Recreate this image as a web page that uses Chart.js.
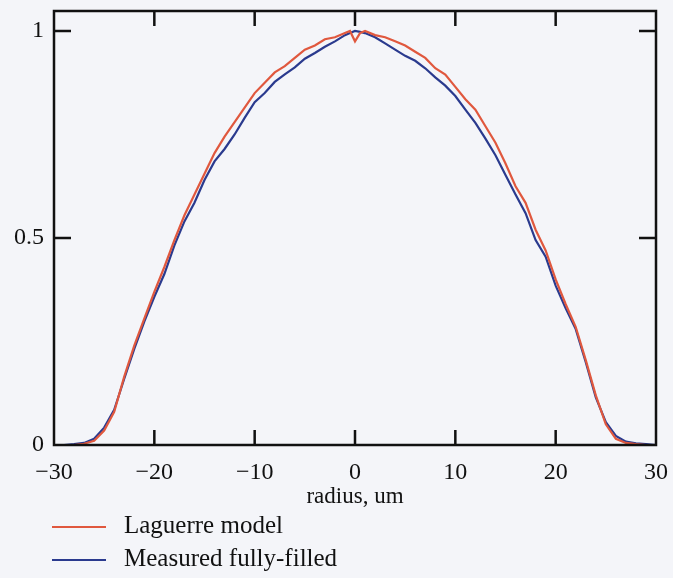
<!DOCTYPE html>
<html>
<head>
<meta charset="utf-8">
<script src="https://cdn.jsdelivr.net/npm/chart.js@4"></script>
<style>
  body { margin: 0; background: #f4f5f9; }
  #wrap { position: relative; width: 673px; height: 578px; }
  .leg { position: absolute; left: 52px; font-family: "Liberation Serif", serif; font-size: 25px; color: #111; }
  .leg span { display: inline-block; width: 54px; height: 2px; vertical-align: middle; margin-right: 18px; }
</style>
</head>
<body>
<div id="wrap">
  <canvas id="chart" width="673" height="578"></canvas>
  <div class="leg" style="top: 511px;"><span style="background:#e0583e"></span>Laguerre model</div>
  <div class="leg" style="top: 544px;"><span style="background:#2a3a8e"></span>Measured fully-filled</div>
</div>
<script>
// radius positions (um)
const radius = [-30, -29, -28, -27, -26, -25, -24, -23, -22, -21, -20, -19, -18, -17, -16, -15,
  -14, -13, -12, -11, -10, -9, -8, -7, -6, -5, -4, -3, -2, -1, -0.5, 0, 0.5, 1, 2, 3, 4, 5, 6, 7,
  8, 9, 10, 11, 12, 13, 14, 15, 16, 17, 18, 19, 20, 21, 22, 23, 24, 25, 26, 27, 28, 29, 30];

const laguerre = [0, 0, 0, 0.003, 0.01, 0.035, 0.08, 0.165, 0.24, 0.305, 0.37, 0.43, 0.495, 0.555,
  0.605, 0.655, 0.705, 0.745, 0.78, 0.815, 0.85, 0.875, 0.9, 0.915, 0.935, 0.955, 0.965, 0.98, 0.985,
  0.995, 1.0, 0.975, 0.995, 1.0, 0.99, 0.985, 0.975, 0.965, 0.95, 0.935, 0.91, 0.895, 0.865, 0.835,
  0.81, 0.77, 0.73, 0.68, 0.625, 0.585, 0.52, 0.47, 0.4, 0.34, 0.285, 0.205, 0.12, 0.05, 0.015,
  0.005, 0.002, 0, 0];

const measured = [0, 0, 0.002, 0.005, 0.015, 0.042, 0.085, 0.16, 0.232, 0.298, 0.358, 0.413, 0.482,
  0.54, 0.585, 0.64, 0.685, 0.715, 0.75, 0.79, 0.828, 0.85, 0.877, 0.895, 0.912, 0.933, 0.947, 0.962,
  0.975, 0.99, 0.995, 1.0, 0.998, 0.995, 0.985, 0.97, 0.955, 0.94, 0.928, 0.91, 0.888, 0.868, 0.843,
  0.81, 0.778, 0.74, 0.7, 0.652, 0.605, 0.56, 0.495, 0.455, 0.385, 0.33, 0.28, 0.2, 0.115, 0.055,
  0.022, 0.008, 0.004, 0.002, 0];

const xTicks = [-30, -20, -10, 0, 10, 20, 30];
const yTicks = [0, 0.5, 1];

const serif = '"Liberation Serif", "Times New Roman", serif';

function toPoints(ys) {
  return radius.map((r, i) => ({ x: r, y: ys[i] }));
}

// frame and inward tick marks, like the original plot
const framePlugin = {
  id: 'frame',
  afterDraw(chart) {
    const ctx = chart.ctx;
    const a = chart.chartArea;
    const xs = chart.scales.x;
    const ys = chart.scales.y;
    ctx.save();
    ctx.strokeStyle = '#111';
    ctx.lineWidth = 2.5;
    ctx.strokeRect(a.left, a.top, a.right - a.left, a.bottom - a.top);
    ctx.beginPath();
    xTicks.slice(1, -1).forEach(v => {
      const px = xs.getPixelForValue(v);
      ctx.moveTo(px, a.bottom); ctx.lineTo(px, a.bottom - 15);
      ctx.moveTo(px, a.top); ctx.lineTo(px, a.top + 15);
    });
    yTicks.slice(1).forEach(v => {
      const py = ys.getPixelForValue(v);
      ctx.moveTo(a.left, py); ctx.lineTo(a.left + 17, py);
      ctx.moveTo(a.right, py); ctx.lineTo(a.right - 17, py);
    });
    ctx.stroke();
    ctx.restore();
  }
};

new Chart(document.getElementById('chart'), {
  type: 'line',
  data: {
    datasets: [
      { label: 'Laguerre model', data: toPoints(laguerre), borderColor: '#e0583e', borderWidth: 2.2, pointRadius: 0, tension: 0 },
      { label: 'Measured fully-filled', data: toPoints(measured), borderColor: '#2a3a8e', borderWidth: 2.2, pointRadius: 0, tension: 0 }
    ]
  },
  options: {
    responsive: false,
    animation: false,
    layout: { padding: { top: 11, right: 17, left: 0, bottom: 67 } },
    plugins: { legend: { display: false }, tooltip: { enabled: false } },
    scales: {
      x: {
        type: 'linear',
        min: -30, max: 30,
        afterBuildTicks: s => { s.ticks = xTicks.map(v => ({ value: v })); },
        afterFit: s => { s.height = 66; s.paddingLeft = 0; s.paddingRight = 0; },
        grid: { display: false, drawTicks: false },
        border: { display: false },
        ticks: {
          padding: 13,
          color: '#111',
          font: { family: serif, size: 24 },
          callback: v => (v < 0 ? '\u2212' + Math.abs(v) : String(v))
        },
        title: { display: true, text: 'radius, um', color: '#111', font: { family: serif, size: 23 }, padding: { top: 0, bottom: 0 } }
      },
      y: {
        min: 0, max: 1.0483,
        afterBuildTicks: s => { s.ticks = yTicks.map(v => ({ value: v })); },
        afterFit: s => { s.width = 54; s.paddingTop = 0; s.paddingBottom = 0; },
        grid: { display: false, drawTicks: false },
        border: { display: false },
        ticks: {
          padding: 10,
          color: '#111',
          font: { family: serif, size: 24 },
          callback: v => String(v)
        }
      }
    }
  },
  plugins: [framePlugin]
});
</script>
</body>
</html>
